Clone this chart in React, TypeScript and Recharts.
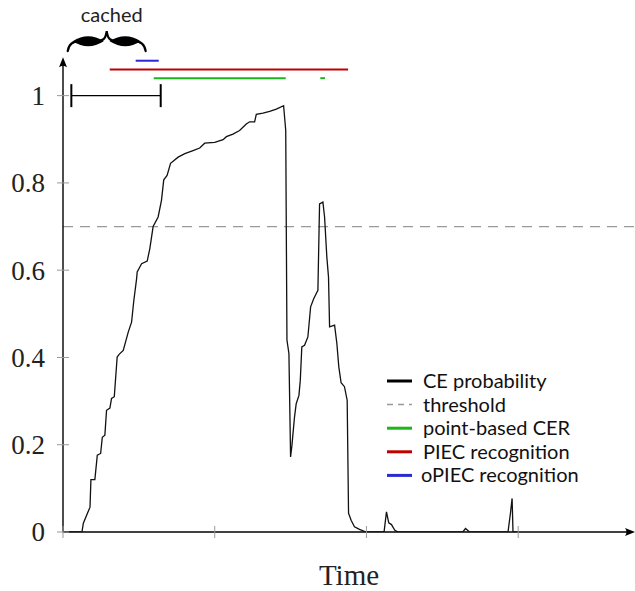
import { LineChart, Line, XAxis, YAxis, ReferenceLine, Legend } from 'recharts';

// CE probability over time (time in tick units: one x tick = 100)
const times = [
  0, 12.5, 13.4, 17.8, 18.4, 21, 22.6, 24.8, 25.9, 27.6, 28.7, 30.9, 32, 33.8, 35.7, 37, 39.7,
  43, 45.2, 46.7, 48.5, 48.9, 51.8, 55.5, 57.2, 59.4, 62.7, 64.9, 66.4, 68.6, 70.9, 75.9, 80.3,
  85.7, 90.1, 93.4, 100, 105.5, 107.7, 112, 116.4, 120.8, 123, 126.3, 127.4, 131.8, 136.2, 140.6,
  145.4, 146.8, 147.6, 148.9, 150, 150.9, 152.6, 153.7, 155.5, 156.4, 157.4, 159.2, 161.4, 163.2,
  165.3, 168, 169.1, 171.3, 172.4, 173.9, 175, 175.7, 179, 180.5, 181.8, 183.3, 185.5, 187.3,
  188.2, 189.9, 192.1, 195.4, 199.8, 211.6, 213.2, 214.7, 216.5, 218.7, 220.9, 263.5, 265.3, 268,
  293.3, 294.9, 296, 296.6, 300,
];
const probs = [
  0, 0, 0.02, 0.057, 0.12, 0.12, 0.176, 0.18, 0.217, 0.222, 0.279, 0.284, 0.306, 0.31, 0.401, 0.407,
  0.416, 0.458, 0.481, 0.531, 0.58, 0.596, 0.615, 0.621, 0.649, 0.7, 0.722, 0.76, 0.807, 0.817,
  0.845, 0.859, 0.867, 0.874, 0.88, 0.891, 0.893, 0.899, 0.906, 0.912, 0.92, 0.935, 0.94, 0.94,
  0.957, 0.96, 0.964, 0.969, 0.977, 0.92, 0.44, 0.409, 0.172, 0.199, 0.264, 0.294, 0.313, 0.348,
  0.424, 0.428, 0.447, 0.516, 0.535, 0.554, 0.752, 0.756, 0.722, 0.63, 0.584, 0.47, 0.474, 0.432,
  0.378, 0.342, 0.333, 0.302, 0.043, 0.027, 0.012, 0.006, 0, 0, 0.046, 0.021, 0.017, 0.004, 0, 0,
  0.008, 0, 0, 0.043, 0.077, 0, 0,
];

const yTicks = [0, 0.2, 0.4, 0.6, 0.8, 1];
const yTickLabels = ['0', '0.2', '0.4', '0.6', '0.8', '1'];
const xTicks = [0, 100, 200, 300];
const xMax = 377;
const yMax = 1.1;
const yArrowTop = 1.088;
const threshold = 0.7;

// recognition intervals drawn above the curve
const cerStarts = [59.8, 169.6];
const cerEnds = [146.8, 172.7];
const cerLevel = 1.04;
const piecSpan = [30.8, 187.9];
const piecLevel = 1.06;
const opiecSpan = [47.9, 63.1];
const opiecLevel = 1.08;
const windowSpan = [5.5, 64.4];
const windowLevel = 1;
const cachedSpan = [3.1, 54.5];
const cachedLevel = 1.102;
const cachedText = 'cached';

const legendLabels = ['CE probability', 'threshold', 'point-based CER', 'PIEC recognition', 'oPIEC recognition'];
const legendColors = ['#000000', '#999999', '#1db51d', '#c00000', '#2a2ad0'];

const chartData = times.map((t, i) => ({ t, p: probs[i] }));

const ArrowShape = (props: any) => {
  const { x1, y1, x2, y2 } = props;
  const a = Math.atan2(y2 - y1, x2 - x1);
  const c = Math.cos(a);
  const s = Math.sin(a);
  const bx = x2 - 10 * c;
  const by = y2 - 10 * s;
  return (
    <g>
      <line x1={x1} y1={y1} x2={x2 - 3 * c} y2={y2 - 3 * s} stroke="#000" strokeWidth={1.4} />
      <path
        d={`M${x2},${y2} L${bx - 4 * s},${by + 4 * c} Q${x2 - 7 * c},${y2 - 7 * s} ${bx + 4 * s},${by - 4 * c} Z`}
        fill="#000"
      />
    </g>
  );
};

const WindowShape = (props: any) => {
  const { x1, y1, x2, y2 } = props;
  return (
    <g stroke="#000">
      <line x1={x1} y1={y1} x2={x2} y2={y2} strokeWidth={1.3} />
      <line x1={x1} y1={y1 - 11.5} x2={x1} y2={y1 + 11.5} strokeWidth={2} />
      <line x1={x2} y1={y2 - 11.5} x2={x2} y2={y2 + 11.5} strokeWidth={2} />
    </g>
  );
};

const lens = (a: number, b: number, y: number, t: number) =>
  `M${a},${y} Q${(a + b) / 2},${y - t} ${b},${y} Q${(a + b) / 2},${y + t} ${a},${y} Z`;

const BraceShape = (props: any) => {
  const { x1, y1, x2 } = props;
  const m = (x1 + x2) / 2;
  const h = 20;
  const k = 10;
  const d = `M${x1},${y1} C${x1 + 1},${y1 - 7} ${x1 + 5},${y1 - k} ${x1 + 12},${y1 - k}
    L${m - 10},${y1 - k} C${m - 4},${y1 - k} ${m - 1},${y1 - k - 2} ${m},${y1 - h}
    C${m + 1},${y1 - k - 2} ${m + 4},${y1 - k} ${m + 10},${y1 - k}
    L${x2 - 12},${y1 - k} C${x2 - 5},${y1 - k} ${x2 - 1},${y1 - 7} ${x2},${y1}`;
  return (
    <g>
      <path d={d} fill="none" stroke="#000" strokeWidth={2.2} strokeLinecap="round" />
      <path d={lens(x1 + 5, m - 3, y1 - k, 10)} fill="#000" />
      <path d={lens(m + 3, x2 - 5, y1 - k, 10)} fill="#000" />
      <text x={m + 5} y={y1 - 29} textAnchor="middle" fontFamily="Lato" fontSize={20} fill="#222">
        {cachedText}
      </text>
    </g>
  );
};

const YTick = (props: any) => {
  const { x, y, index } = props;
  return (
    <g>
      <line x1={x - 6} y1={y} x2={x + 6} y2={y} stroke="#999" strokeWidth={1} />
      <text x={x - 18} y={y} dy="0.35em" textAnchor="end" fontFamily="Liberation Serif" fontSize={27} fill="#222">
        {yTickLabels[index]}
      </text>
    </g>
  );
};

const XTick = (props: any) => {
  const { x, y } = props;
  return <line x1={x} y1={y - 6} x2={x} y2={y + 6} stroke="#999" strokeWidth={1} />;
};

const LegendBox = () => (
  <svg width={250} height={125}>
    {legendLabels.map((label, i) => {
      const cy = 15 + i * 23.6;
      return (
        <g key={label}>
          <line
            x1={7}
            y1={cy}
            x2={32}
            y2={cy}
            stroke={legendColors[i]}
            strokeWidth={i === 1 ? 1.5 : 3}
            strokeDasharray={i === 1 ? '6 5' : undefined}
          />
          <text x={i === 4 ? 41 : 43} y={cy} dy="0.35em" fontFamily="Lato" fontSize={20} fill="#111">
            {label}
          </text>
        </g>
      );
    })}
  </svg>
);

export default function App() {
  return (
    <div style={{ position: 'absolute', left: 0, top: 0 }}>
      <LineChart width={635} height={591} data={chartData} margin={{ top: 52, right: 0, bottom: 0, left: 0 }}>
        <XAxis
          type="number"
          dataKey="t"
          domain={[0, xMax]}
          ticks={xTicks}
          tick={<XTick />}
          tickLine={false}
          axisLine={false}
          tickSize={0}
          tickMargin={0}
          height={59}
          allowDataOverflow
          label={{ value: 'Time', position: 'insideBottom', offset: 6, fontFamily: 'Liberation Serif', fontSize: 29, fill: '#222' }}
        />
        <YAxis
          type="number"
          domain={[0, yMax]}
          ticks={yTicks}
          tick={<YTick />}
          tickLine={false}
          axisLine={false}
          tickSize={0}
          tickMargin={0}
          width={63}
          allowDataOverflow
        />
        <ReferenceLine y={threshold} stroke="#999" strokeWidth={1.3} strokeDasharray="10 7" />
        <ReferenceLine segment={[{ x: 0, y: 0 }, { x: 0, y: yArrowTop }]} shape={<ArrowShape />} />
        <ReferenceLine segment={[{ x: 0, y: 0 }, { x: xMax, y: 0 }]} shape={<ArrowShape />} />
        <ReferenceLine
          segment={[{ x: windowSpan[0], y: windowLevel }, { x: windowSpan[1], y: windowLevel }]}
          shape={<WindowShape />}
        />
        <ReferenceLine
          segment={[{ x: cachedSpan[0], y: cachedLevel }, { x: cachedSpan[1], y: cachedLevel }]}
          shape={<BraceShape />}
          ifOverflow="visible"
        />
        <ReferenceLine
          segment={[{ x: opiecSpan[0], y: opiecLevel }, { x: opiecSpan[1], y: opiecLevel }]}
          stroke={legendColors[4]}
          strokeWidth={2}
        />
        <ReferenceLine
          segment={[{ x: piecSpan[0], y: piecLevel }, { x: piecSpan[1], y: piecLevel }]}
          stroke={legendColors[3]}
          strokeWidth={2}
        />
        {cerStarts.map((s, i) => (
          <ReferenceLine
            key={i}
            segment={[{ x: s, y: cerLevel }, { x: cerEnds[i], y: cerLevel }]}
            stroke={legendColors[2]}
            strokeWidth={2}
          />
        ))}
        <Line
          type="linear"
          dataKey="p"
          stroke="#111"
          strokeWidth={1.3}
          dot={false}
          isAnimationActive={false}
        />
        <Legend
          layout="vertical"
          align="center"
          verticalAlign="middle"
          wrapperStyle={{ left: 380, top: 366, width: 250 }}
          content={() => <LegendBox />}
        />
      </LineChart>
    </div>
  );
}
